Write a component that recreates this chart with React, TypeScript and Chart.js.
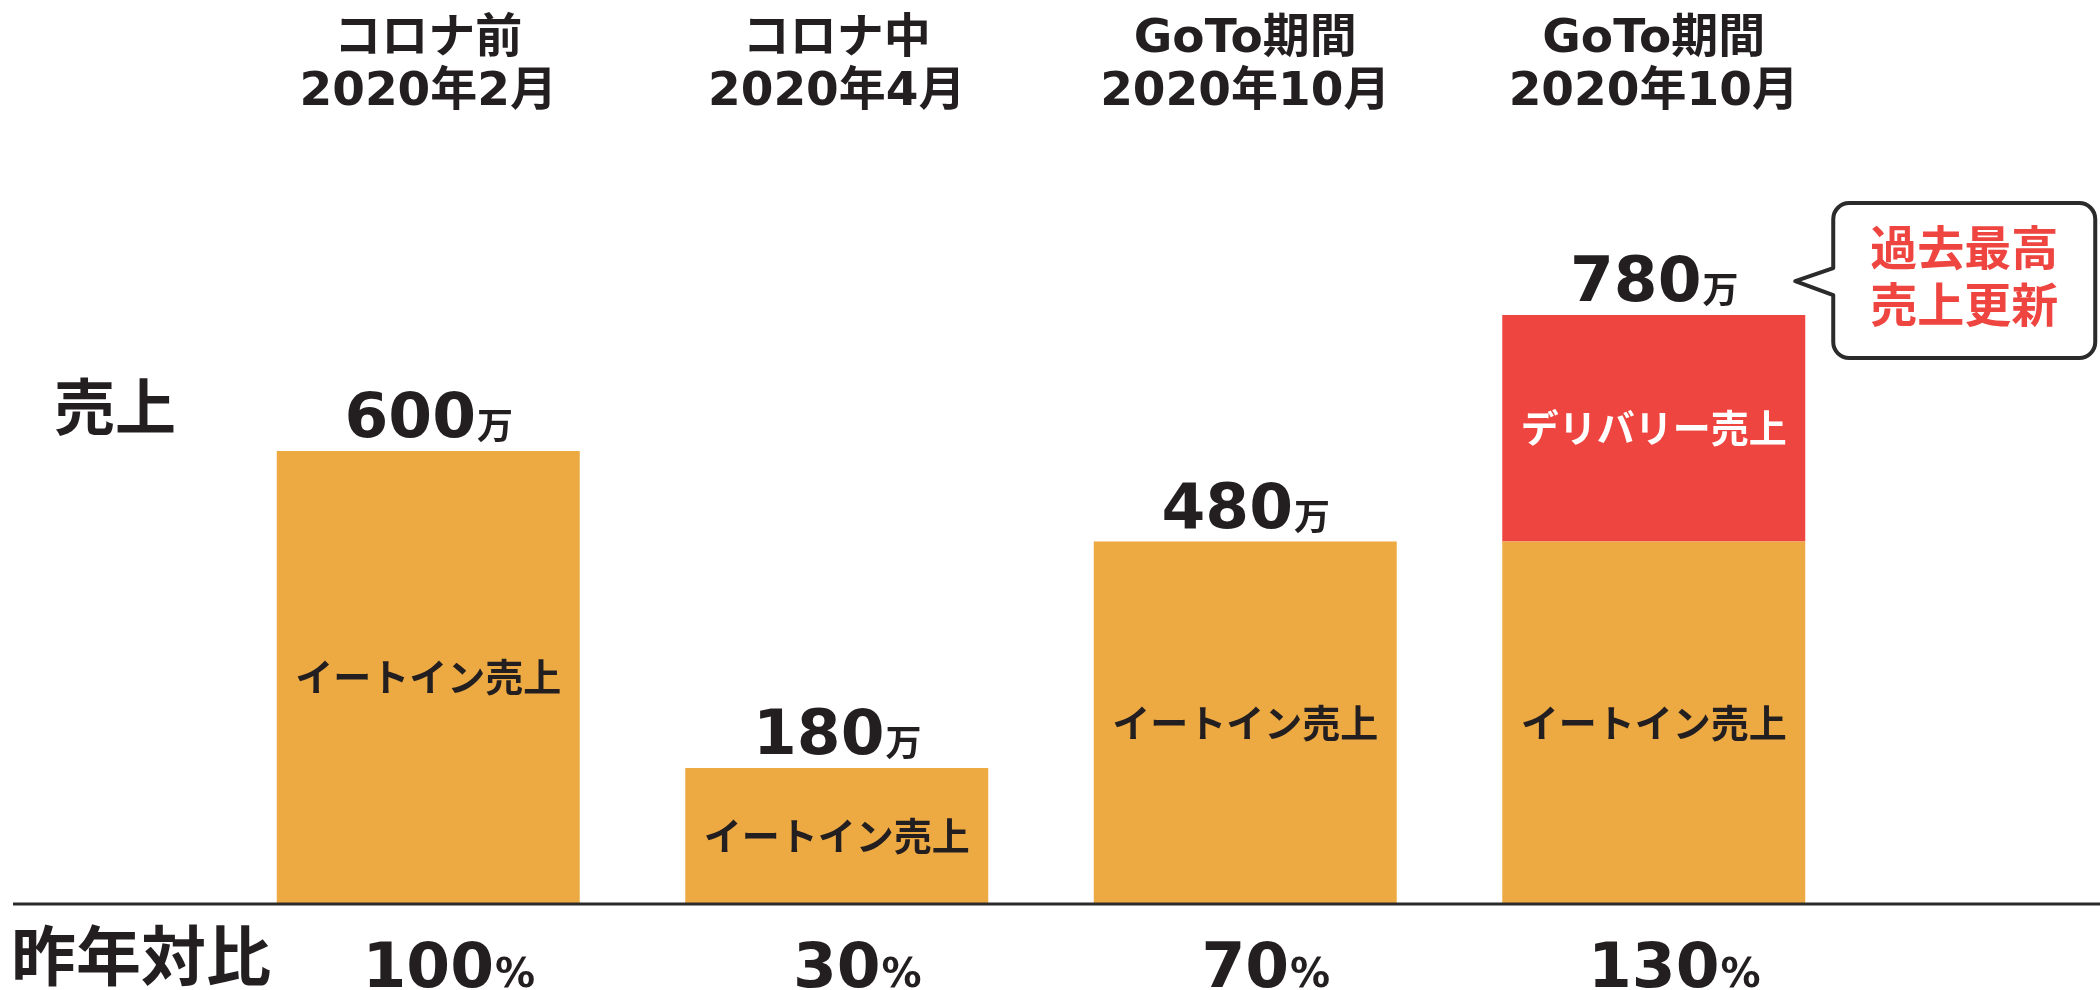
import React, { useEffect, useRef } from "react";
import { Chart, registerables } from "chart.js";

Chart.register(...registerables);

const categoryLine1 = ["コロナ前", "コロナ中", "GoTo期間", "GoTo期間"];
const categoryLine2 = ["2020年2月", "2020年4月", "2020年10月", "2020年10月"];
const eatInSales = [600, 180, 480, 480];
const deliverySales = [0, 0, 0, 300];
const yoyPercent = [100, 30, 70, 130];
const seriesNames = ["イートイン売上", "デリバリー売上"];
const rowLabels = ["売上", "昨年対比"];
const calloutLines = ["過去最高", "売上更新"];
const unitSales = "万";
const unitPercent = "%";

const ORANGE = "#EDAA43";
const RED = "#EF4540";
const DARK = "#231F20";
const FONT = '"DejaVu Sans", "Noto Sans CJK JP", sans-serif';

const labelsPlugin = {
  id: "labelsPlugin",
  afterDatasetsDraw(chart: any) {
    const ctx = chart.ctx as CanvasRenderingContext2D;
    const xs = chart.scales.x;
    const ys = chart.scales.y;
    const zeroY = ys.getPixelForValue(0);
    ctx.save();

    // baseline axis
    ctx.strokeStyle = "#2b2b2b";
    ctx.lineWidth = 3;
    ctx.beginPath();
    ctx.moveTo(13, zeroY);
    ctx.lineTo(2100, zeroY);
    ctx.stroke();

    ctx.fillStyle = DARK;
    ctx.textBaseline = "middle";
    ctx.textAlign = "center";
    // top category labels
    ctx.font = `bold 47px ${FONT}`;
    categoryLine1.forEach((t, i) => {
      const x = xs.getPixelForValue(i);
      ctx.fillText(t, x, 40);
      ctx.fillText(categoryLine2[i], x, 93);
    });

    // inner bar labels
    chart.data.datasets.forEach((ds: any, di: number) => {
      const meta = chart.getDatasetMeta(di);
      meta.data.forEach((bar: any, i: number) => {
        if (!ds.data[i]) return;
        const cy = (bar.y + bar.base) / 2;
        ctx.font = `bold 38px ${FONT}`;
        ctx.fillStyle = di === 0 ? DARK : "#ffffff";
        ctx.textAlign = "center";
        ctx.textBaseline = "middle";
        ctx.fillText(ds.label, bar.x, cy + 4);
      });
    });

    // totals above bars
    const lastMeta = chart.getDatasetMeta(chart.data.datasets.length - 1);
    const firstMeta = chart.getDatasetMeta(0);
    eatInSales.forEach((v, i) => {
      const total = v + deliverySales[i];
      const topBar = deliverySales[i] ? lastMeta.data[i] : firstMeta.data[i];
      const x = (topBar as any).x;
      const topY = ys.getPixelForValue(total);
      const num = String(total);
      ctx.textBaseline = "alphabetic";
      ctx.textAlign = "left";
      ctx.font = `bold 63px ${FONT}`;
      const w1 = ctx.measureText(num).width;
      ctx.font = `bold 36px ${FONT}`;
      const w2 = ctx.measureText(unitSales).width;
      const start = x - (w1 + w2) / 2;
      ctx.fillStyle = DARK;
      ctx.font = `bold 63px ${FONT}`;
      ctx.fillText(num, start, topY - 14);
      ctx.font = `bold 36px ${FONT}`;
      ctx.fillText(unitSales, start + w1 + 1, topY - 12);
    });

    // percent row
    yoyPercent.forEach((p, i) => {
      const x = xs.getPixelForValue(i);
      const num = String(p);
      ctx.textBaseline = "alphabetic";
      ctx.textAlign = "left";
      ctx.font = `bold 63px ${FONT}`;
      const w1 = ctx.measureText(num).width;
      ctx.fillStyle = DARK;
      ctx.fillText(num, x - w1 / 2, 987);
      ctx.font = `bold 40px ${FONT}`;
      ctx.fillText(unitPercent, x + w1 / 2 + 1, 987);
    });

    // row labels
    ctx.fillStyle = DARK;
    ctx.textAlign = "left";
    ctx.textBaseline = "middle";
    ctx.font = `bold 61px ${FONT}`;
    ctx.fillText(rowLabels[0], 54, 414);
    ctx.font = `bold 65px ${FONT}`;
    ctx.fillText(rowLabels[1], 11, 963);

    // callout bubble anchored to the record bar
    const rec = lastMeta.data[3] as any;
    const tipX = rec.x + rec.width / 2 - 10;
    const tipY = rec.y - 34;
    const bx = tipX + 38;
    const by = tipY - 78;
    const bw = 262;
    const bh = 155;
    const r = 16;
    ctx.beginPath();
    ctx.moveTo(bx + r, by);
    ctx.lineTo(bx + bw - r, by);
    ctx.arcTo(bx + bw, by, bx + bw, by + r, r);
    ctx.lineTo(bx + bw, by + bh - r);
    ctx.arcTo(bx + bw, by + bh, bx + bw - r, by + bh, r);
    ctx.lineTo(bx + r, by + bh);
    ctx.arcTo(bx, by + bh, bx, by + bh - r, r);
    ctx.lineTo(bx, tipY + 14);
    ctx.lineTo(tipX, tipY);
    ctx.lineTo(bx, tipY - 13);
    ctx.lineTo(bx, by + r);
    ctx.arcTo(bx, by, bx + r, by, r);
    ctx.closePath();
    ctx.fillStyle = "#ffffff";
    ctx.fill();
    ctx.lineWidth = 4;
    ctx.strokeStyle = "#2b2b2b";
    ctx.lineJoin = "round";
    ctx.stroke();
    ctx.fillStyle = RED;
    ctx.textAlign = "center";
    ctx.textBaseline = "middle";
    ctx.font = `bold 47px ${FONT}`;
    ctx.fillText(calloutLines[0], bx + bw / 2, by + 50);
    ctx.fillText(calloutLines[1], bx + bw / 2, by + 107);

    ctx.restore();
  },
};

export default function App() {
  const ref = useRef<HTMLCanvasElement | null>(null);
  useEffect(() => {
    document.body.style.margin = "0";
    if (!ref.current) return;
    const chart = new Chart(ref.current, {
      type: "bar",
      data: {
        labels: categoryLine2,
        datasets: [
          {
            label: seriesNames[0],
            data: eatInSales,
            backgroundColor: ORANGE,
            barPercentage: 0.7417,
            categoryPercentage: 1,
          },
          {
            label: seriesNames[1],
            data: deliverySales,
            backgroundColor: RED,
            barPercentage: 0.7417,
            categoryPercentage: 1,
          },
        ],
      },
      options: {
        responsive: false,
        animation: false,
        events: [],
        layout: { padding: { left: 224, right: 242, top: 149, bottom: 86 } },
        plugins: { legend: { display: false }, tooltip: { enabled: false } },
        scales: {
          x: { stacked: true, display: false },
          y: { stacked: true, display: false, min: 0, max: 1000 },
        },
      },
      plugins: [labelsPlugin],
    });
    return () => chart.destroy();
  }, []);
  return (
    <div style={{ position: "fixed", left: 0, top: 0, width: 2100, height: 990, background: "#fff" }}>
      <canvas ref={ref} width={2100} height={990} style={{ width: 2100, height: 990 }} />
    </div>
  );
}
